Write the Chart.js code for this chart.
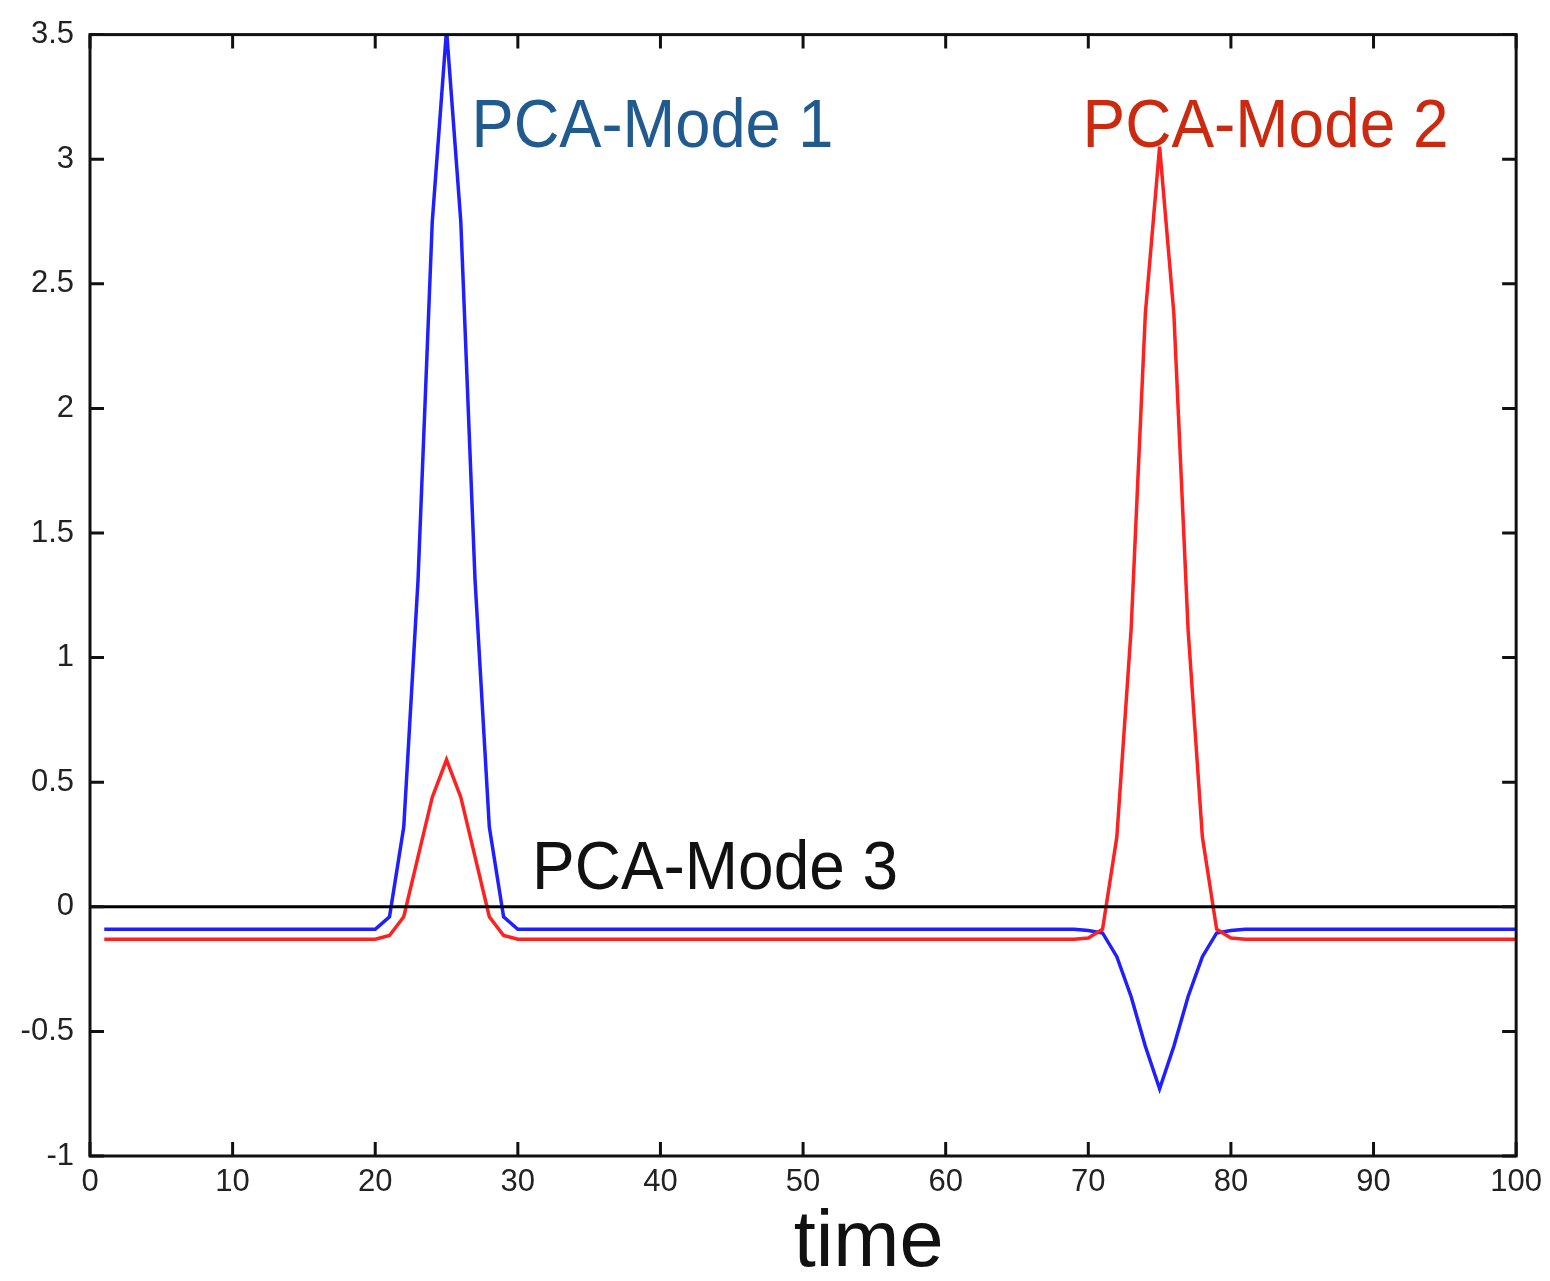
<!DOCTYPE html>
<html>
<head>
<meta charset="utf-8">
<script src="https://cdn.jsdelivr.net/npm/chart.js@4"></script>
<style>
  html, body { margin: 0; padding: 0; background: #fff; }
  canvas { display: block; }
</style>
</head>
<body>
<canvas id="myChart" width="1550" height="1281"></canvas>
<script>
// sample times
const time = [
  1, 2, 3, 4, 5, 6, 7, 8, 9, 10,
  11, 12, 13, 14, 15, 16, 17, 18, 19, 20,
  21, 22, 23, 24, 25, 26, 27, 28, 29, 30,
  31, 32, 33, 34, 35, 36, 37, 38, 39, 40,
  41, 42, 43, 44, 45, 46, 47, 48, 49, 50,
  51, 52, 53, 54, 55, 56, 57, 58, 59, 60,
  61, 62, 63, 64, 65, 66, 67, 68, 69, 70,
  71, 72, 73, 74, 75, 76, 77, 78, 79, 80,
  81, 82, 83, 84, 85, 86, 87, 88, 89, 90,
  91, 92, 93, 94, 95, 96, 97, 98, 99, 100
]

// blue curve
const mode1 = [
  -0.09, -0.09, -0.09, -0.09, -0.09, -0.09, -0.09, -0.09, -0.09, -0.09,
  -0.09, -0.09, -0.09, -0.09, -0.09, -0.09, -0.09, -0.09, -0.09, -0.09,
  -0.04, 0.32, 1.31, 2.75, 3.52, 2.75, 1.31, 0.32, -0.04, -0.09,
  -0.09, -0.09, -0.09, -0.09, -0.09, -0.09, -0.09, -0.09, -0.09, -0.09,
  -0.09, -0.09, -0.09, -0.09, -0.09, -0.09, -0.09, -0.09, -0.09, -0.09,
  -0.09, -0.09, -0.09, -0.09, -0.09, -0.09, -0.09, -0.09, -0.09, -0.09,
  -0.09, -0.09, -0.09, -0.09, -0.09, -0.09, -0.09, -0.09, -0.09, -0.095,
  -0.105, -0.2, -0.36, -0.56, -0.73, -0.56, -0.36, -0.2, -0.105, -0.095,
  -0.09, -0.09, -0.09, -0.09, -0.09, -0.09, -0.09, -0.09, -0.09, -0.09,
  -0.09, -0.09, -0.09, -0.09, -0.09, -0.09, -0.09, -0.09, -0.09, -0.09
]

// red curve
const mode2 = [
  -0.13, -0.13, -0.13, -0.13, -0.13, -0.13, -0.13, -0.13, -0.13, -0.13,
  -0.13, -0.13, -0.13, -0.13, -0.13, -0.13, -0.13, -0.13, -0.13, -0.13,
  -0.115, -0.04, 0.2, 0.44, 0.59, 0.44, 0.2, -0.04, -0.115, -0.13,
  -0.13, -0.13, -0.13, -0.13, -0.13, -0.13, -0.13, -0.13, -0.13, -0.13,
  -0.13, -0.13, -0.13, -0.13, -0.13, -0.13, -0.13, -0.13, -0.13, -0.13,
  -0.13, -0.13, -0.13, -0.13, -0.13, -0.13, -0.13, -0.13, -0.13, -0.13,
  -0.13, -0.13, -0.13, -0.13, -0.13, -0.13, -0.13, -0.13, -0.13, -0.125,
  -0.09, 0.28, 1.11, 2.38, 3.05, 2.38, 1.11, 0.28, -0.09, -0.125,
  -0.13, -0.13, -0.13, -0.13, -0.13, -0.13, -0.13, -0.13, -0.13, -0.13,
  -0.13, -0.13, -0.13, -0.13, -0.13, -0.13, -0.13, -0.13, -0.13, -0.13
]

// black flat line
const mode3Time = [0, 100]
const mode3 = [0, 0]

const labelTexts = ['PCA-Mode 1', 'PCA-Mode 2', 'PCA-Mode 3']

let toXY = (xs, ys) => xs.map((x, i) => ({ x: x, y: ys[i] }))

// text placement (data coords) and look
const labelStyle = [
  { x: 26.75, y: 3.05, color: '#215a8e', maxW: 362 },
  { x: 69.6, y: 3.05, color: '#cc2a10', maxW: 366 },
  { x: 31.0, y: 0.07, color: '#111111', maxW: 366 }
]
const labelFont = '300 68px "Helvetica Neue", "Liberation Sans", Arial, sans-serif'

const boxPlugin = {
  id: 'box',
  afterDatasetsDraw(chart) {
    let ctx = chart.ctx
    let a = chart.chartArea
    let xs = chart.scales.x, ys = chart.scales.y
    ctx.save()
    ctx.strokeStyle = '#111'
    ctx.lineWidth = 3
    ctx.strokeRect(a.left, a.top, a.right - a.left, a.bottom - a.top)
    ctx.beginPath()
    xs.ticks.forEach(t => {
      let px = xs.getPixelForValue(t.value)
      ctx.moveTo(px, a.bottom); ctx.lineTo(px, a.bottom - 14)
      ctx.moveTo(px, a.top); ctx.lineTo(px, a.top + 14)
    })
    ys.ticks.forEach(t => {
      let py = ys.getPixelForValue(t.value)
      ctx.moveTo(a.left, py); ctx.lineTo(a.left + 14, py)
      ctx.moveTo(a.right, py); ctx.lineTo(a.right - 14, py)
    })
    ctx.stroke()

    ctx.font = labelFont
    ctx.textAlign = 'left'
    ctx.textBaseline = 'alphabetic'
    labelTexts.forEach((txt, i) => {
      let s = labelStyle[i]
      ctx.fillStyle = s.color
      ctx.fillText(txt, xs.getPixelForValue(s.x), ys.getPixelForValue(s.y), s.maxW)
    })

    // axis title
    ctx.fillStyle = '#111'
    ctx.font = '300 80px "Helvetica Neue", "Liberation Sans", Arial, sans-serif'
    ctx.textAlign = 'center'
    ctx.fillText('time', xs.getPixelForValue(54.6), a.bottom + 110, 150)
    ctx.restore()
  }
}

let ctx = document.getElementById('myChart')
new Chart(ctx, {
  type: 'line',
  data: {
    datasets: [
      {
        label: labelTexts[2],
        data: toXY(mode3Time, mode3),
        borderColor: '#000',
        borderWidth: 3,
        pointRadius: 0,
        order: 0
      },
      {
        label: labelTexts[1],
        data: toXY(time, mode2),
        borderColor: '#ff2020',
        borderWidth: 3.5,
        pointRadius: 0,
        order: 1
      },
      {
        label: labelTexts[0],
        data: toXY(time, mode1),
        borderColor: '#1f1fff',
        borderWidth: 3.5,
        pointRadius: 0,
        order: 2
      }
    ]
  },
  options: {
    responsive: false,
    animation: false,
    layout: { padding: { left: 0, top: 33, right: 33, bottom: 0 } },
    plugins: { legend: { display: false }, tooltip: { enabled: false } },
    elements: { line: { tension: 0 } },
    scales: {
      x: {
        type: 'linear',
        min: 0,
        max: 100,
        grid: { display: false, drawTicks: false },
        border: { display: false },
        ticks: {
          stepSize: 10,
          padding: 8,
          color: '#222',
          font: { family: '"Liberation Sans", Arial, sans-serif', size: 31 }
        },
        afterFit: (scale) => { scale.height = 125 }
      },
      y: {
        min: -1,
        max: 3.5,
        grid: { display: false, drawTicks: false },
        border: { display: false },
        ticks: {
          stepSize: 0.5,
          padding: 16,
          color: '#222',
          font: { family: '"Liberation Sans", Arial, sans-serif', size: 31 },
          callback: (v) => String(Math.round(v * 10) / 10)
        },
        afterFit: (scale) => { scale.width = 90 }
      }
    }
  },
  plugins: [boxPlugin]
})
</script>
</body>
</html>
